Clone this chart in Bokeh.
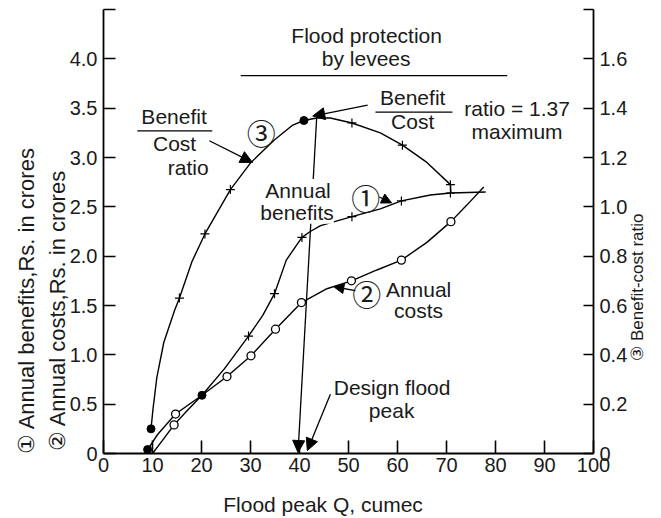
import math
from bokeh.plotting import figure
from bokeh.models import Range1d, LinearAxis, FixedTicker, Label, Arrow, NormalHead
from bokeh.embed import file_html
from bokeh.resources import INLINE

# ---------------- data ----------------
x_ticks = [0, 10, 20, 30, 40, 50, 60, 70, 80, 90, 100]
x_tick_labels = ["0", "10", "20", "30", "40", "50", "60", "70", "80", "90", "100"]
left_ticks = [0, 0.5, 1.0, 1.5, 2.0, 2.5, 3.0, 3.5, 4.0, 4.5]
left_tick_labels = ["0", "0.5", "1.0", "1.5", "2.0", "2.5", "3.0", "3.5", "4.0", ""]
right_ticks = [0, 0.2, 0.4, 0.6, 0.8, 1.0, 1.2, 1.4, 1.6, 1.8]
right_tick_labels = ["0", "0.2", "0.4", "0.6", "0.8", "1.0", "1.2", "1.4", "1.6", ""]

x_title = "Flood peak Q, cumec"
benefit_title = "\u2460 Annual benefits,Rs. in crores"
cost_title = "\u2461 Annual costs,Rs. in crores"
ratio_title = "\u2462 Benefit-cost ratio"

# (1) Annual benefits, Rs. in crores
benefit_q = [10.0, 12.0, 14.4, 17.0, 20.1, 24.7, 29.6, 32.5, 34.9, 37.3, 40.5, 42.2, 44.3, 50.7, 56.5, 60.8, 66.7, 70.8, 78.0]
benefit_v = [0.00, 0.13, 0.29, 0.43, 0.59, 0.86, 1.19, 1.40, 1.62, 1.96, 2.19, 2.25, 2.31, 2.40, 2.48, 2.56, 2.62, 2.64, 2.65]
benefit_mark = ["", "", "o", "", "", "", "+", "", "+", "", "+", "", "", "+", "", "+", "", "+", ""]

# (2) Annual costs, Rs. in crores
cost_q = [9.0, 11.0, 14.7, 20.1, 25.2, 30.1, 35.1, 40.4, 45.6, 50.6, 55.8, 60.8, 66.0, 70.9, 74.2, 77.6]
cost_v = [0.04, 0.19, 0.40, 0.59, 0.78, 0.99, 1.26, 1.53, 1.67, 1.75, 1.86, 1.96, 2.14, 2.35, 2.52, 2.70]
cost_mark = ["*", "", "o", "*", "o", "o", "o", "o", "", "o", "", "o", "", "o", "", ""]

# (3) Benefit-cost ratio
bc_q = [9.7, 10.1, 10.9, 12.3, 14.5, 15.5, 18.1, 20.7, 25.9, 30.1, 34.8, 38.5, 40.9, 43.5, 46.3, 50.7, 56.5, 61.0, 66.0, 70.8, 70.9]
bc_ratio = [0.10, 0.18, 0.31, 0.45, 0.58, 0.63, 0.78, 0.89, 1.07, 1.18, 1.27, 1.33, 1.35, 1.36, 1.36, 1.34, 1.30, 1.25, 1.18, 1.09, 1.06]
bc_mark = ["*", "", "", "", "", "+", "", "+", "+", "", "", "", "*", "", "", "+", "", "+", "", "+", ""]

design_flood_q = 39.7

FONT = "Liberation Sans"
CJK = "Noto Sans CJK JP"
TXT = "#1a1a1a"

p = figure(width=661, height=518, x_range=Range1d(0, 100), y_range=Range1d(0, 4.5),
           output_backend="svg", toolbar_location=None,
           min_border_left=103, min_border_right=68, min_border_top=9, min_border_bottom=64)
p.outline_line_color = None
p.grid.visible = False
p.background_fill_color = "white"
p.border_fill_color = "white"

p.extra_y_ranges = {"ratio": Range1d(0, 1.8)}
raxis = LinearAxis(y_range_name="ratio")
p.add_layout(raxis, "right")

xa = p.xaxis[0]
ya = p.yaxis[0]
xa.ticker = FixedTicker(ticks=x_ticks)
xa.major_label_overrides = dict(zip(x_ticks, x_tick_labels))
ya.ticker = FixedTicker(ticks=left_ticks)
ya.major_label_overrides = dict(zip(left_ticks, left_tick_labels))
raxis.ticker = FixedTicker(ticks=right_ticks)
raxis.major_label_overrides = dict(zip(right_ticks, right_tick_labels))

for ax in (xa, ya, raxis):
    ax.axis_line_width = 1.8
    ax.axis_line_color = "black"
    ax.major_tick_line_width = 1.6
    ax.major_tick_line_color = "black"
    ax.major_tick_out = 0
    ax.minor_tick_line_color = None
    ax.major_label_text_font = FONT
    ax.major_label_text_font_size = "20px"
    ax.major_label_text_color = TXT
xa.major_tick_in = 13
xa.major_label_standoff = 4
ya.major_tick_in = 12
ya.major_label_standoff = 6
raxis.major_tick_in = 10
raxis.major_label_standoff = 6


# axis titles: drawn as the single label of an extra, line-less axis so that they sit
# in the side panels (outside the frame) at a chosen position along the axis
def title_axis(side, pos, text, size, standoff, orientation, yr="default"):
    kw = dict(y_range_name=yr) if side in ("left", "right") else {}
    ax = LinearAxis(ticker=FixedTicker(ticks=[pos]), major_label_overrides={pos: text},
                    axis_line_color=None, major_tick_line_color=None, minor_tick_line_color=None,
                    major_tick_in=0, major_tick_out=0, major_label_standoff=standoff,
                    major_label_text_font=FONT, major_label_text_font_size=size,
                    major_label_text_color=TXT, major_label_orientation=orientation, **kw)
    p.add_layout(ax, side)


title_axis("below", 44.8, x_title, "21px", 18, "horizontal")
title_axis("left", 1.45, cost_title, "22px", -4, "vertical")
title_axis("left", 1.55, benefit_title, "22px", 3, "vertical")
title_axis("right", 0.94, ratio_title, "17px", 7, math.pi / 2)

# ---------------- curves ----------------
p.line(benefit_q, benefit_v, line_width=1.4, line_color="black")
p.line(cost_q, cost_v, line_width=1.4, line_color="black")
p.line(bc_q, bc_ratio, line_width=1.4, line_color="black", y_range_name="ratio")


def marks(qs, vs, ms, yr="default"):
    styles = [
        ("+", dict(marker="cross", size=9, line_color="black", line_width=1.2)),
        ("o", dict(marker="circle", size=8, fill_color="white", line_color="black", line_width=1.3)),
        ("*", dict(marker="circle", size=8, fill_color="black", line_color="black", line_width=1)),
    ]
    for sym, kw in styles:
        xs = [q for q, m in zip(qs, ms) if m == sym]
        ys = [v for v, m in zip(vs, ms) if m == sym]
        if xs:
            p.scatter(xs, ys, y_range_name=yr, **kw)


marks(benefit_q, benefit_v, benefit_mark)
marks(cost_q, cost_v, cost_mark)
marks(bc_q, bc_ratio, bc_mark, "ratio")


# ---------------- annotations ----------------
def arrow(x0, y0, x1, y1, size=12, yr="default", head=True):
    end = NormalHead(size=size, fill_color="black", line_color="black", line_width=1) if head else None
    p.add_layout(Arrow(x_start=x0, y_start=y0, x_end=x1, y_end=y1, line_width=1.3,
                       line_color="black", end=end, y_range_name=yr))


def lab(text, x, y, size="21px", align="center", bg=None, font=FONT):
    kw = dict(x=x, y=y, text=text, text_font=font, text_font_size=size, text_align=align,
              text_baseline="middle", text_color=TXT)
    if bg:
        kw["background_fill_color"] = bg
    p.add_layout(Label(**kw))


imax = bc_ratio.index(max(bc_ratio[:14]))
# vertical arrow from the maximum B/C point down to the design flood peak
arrow(bc_q[imax], bc_ratio[imax], design_flood_q, 0.004, size=12, yr="ratio")
# design flood peak pointer
arrow(46.3, 0.60, 41.6, 0.03, size=12)
# B/C label pointers
arrow(21.6, 3.17, 30.4, 2.95, size=12)
arrow(53.9, 3.53, 42.7, 3.42, size=12)
# (1) and (2) pointers
arrow(56.3, 2.60, 58.8, 2.54, size=10)
arrow(51.4, 1.65, 47.0, 1.69, size=10)

# plain lines (levee bracket and fraction bars)
arrow(28.0, 3.83, 82.4, 3.83, head=False)
arrow(6.9, 3.27, 22.2, 3.27, head=False)
arrow(55.5, 3.46, 71.2, 3.46, head=False)

lab("Flood protection", 53.7, 4.236)
lab("by levees", 53.6, 4.006)
lab("Benefit", 14.4, 3.416)
lab("Cost", 14.5, 3.146)
lab("ratio", 17.3, 2.896)
lab("\u2462", 32.2, 3.26, size="29px", font=CJK)
lab("Benefit", 63.1, 3.606)
lab("Cost", 63.1, 3.366)
lab("ratio = 1.37", 84.4, 3.496)
lab("maximum", 84.4, 3.266)
lab("Annual", 39.7, 2.666, bg="white")
lab("benefits", 39.5, 2.446, bg="white")
lab("\u2460", 53.5, 2.60, size="29px", font=CJK)
lab("\u2461", 53.7, 1.63, size="29px", font=CJK)
lab("Annual", 64.3, 1.666)
lab("costs", 64.3, 1.446)
lab("Design flood", 58.9, 0.666)
lab("peak", 58.8, 0.436)

open("out.html", "w").write(file_html(p, INLINE))
